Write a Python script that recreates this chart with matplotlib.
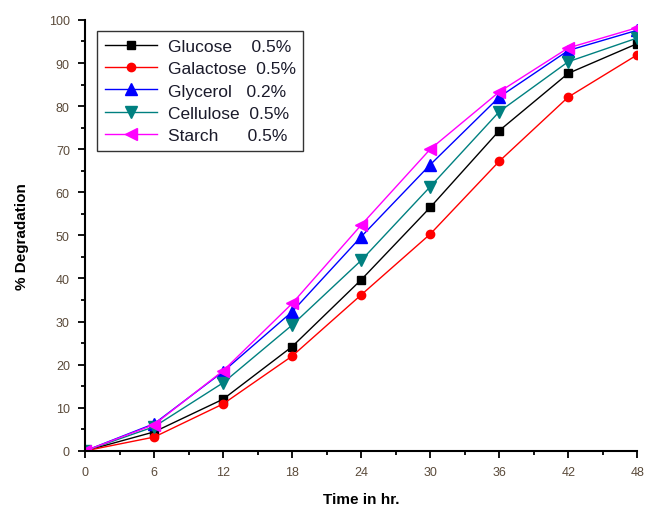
import matplotlib
matplotlib.use("Agg")
import matplotlib.pyplot as plt
from matplotlib.ticker import MultipleLocator

plt.rcParams['font.family'] = ['Liberation Sans', 'DejaVu Sans']

time = [0, 6, 12, 18, 24, 30, 36, 42, 48]
glucose = [0, 4.4, 12.0, 24.2, 39.7, 56.5, 74.3, 87.6, 94.5]
galactose = [0, 3.2, 10.9, 22.0, 36.2, 50.3, 67.2, 82.1, 91.9]
glycerol = [0, 6.3, 18.4, 32.3, 49.7, 66.4, 82.1, 92.9, 97.6]
cellulose = [0, 5.6, 15.8, 29.2, 44.2, 61.3, 78.7, 90.3, 95.8]
starch = [0, 6.1, 18.6, 34.2, 52.4, 70.0, 83.3, 93.5, 98.2]

labels = ["Glucose    0.5%", "Galactose  0.5%", "Glycerol   0.2%",
          "Cellulose  0.5%", "Starch      0.5%"]
series = [glucose, galactose, glycerol, cellulose, starch]
colors = ["#000000", "#ff0000", "#0000ff", "#008080", "#ff00ff"]
markers = ["s", "o", "^", "v", "<"]
msizes = [6, 6, 8, 8, 8]

fig = plt.figure(figsize=(6.45, 5.10), dpi=100)
ax = fig.add_axes([0.132, 0.114, 0.856, 0.845])

for y, lab, c, m, ms in zip(series, labels, colors, markers, msizes):
    ax.plot(time, y, color=c, marker=m, markersize=ms, linewidth=1.0, label=lab)

ax.set_xlim(0, 48)
ax.set_ylim(0, 100)
ax.xaxis.set_major_locator(MultipleLocator(6))
ax.xaxis.set_minor_locator(MultipleLocator(3))
ax.yaxis.set_major_locator(MultipleLocator(10))
ax.yaxis.set_minor_locator(MultipleLocator(5))
for s in ['top', 'right']:
    ax.spines[s].set_visible(False)
for s in ['left', 'bottom']:
    ax.spines[s].set_linewidth(1.5)
ax.tick_params(which='major', direction='out', length=5, width=1.3,
               labelsize=9, labelcolor='#5a4a3a', pad=6)
ax.tick_params(which='minor', direction='out', length=3, width=1.3)

ax.set_xlabel("Time in hr.", fontsize=11, fontweight='bold', labelpad=10)
ax.set_ylabel("% Degradation", fontsize=11, fontweight='bold', labelpad=14)

leg = ax.legend(loc='upper left', bbox_to_anchor=(0.022, 0.975), fontsize=12.5,
                frameon=True, fancybox=False, edgecolor='black',
                handlelength=3.0, borderpad=0.45, labelspacing=0.42,
                handletextpad=0.6, borderaxespad=0)
leg.get_frame().set_linewidth(1.0)
for t in leg.get_texts():
    t.set_color('#1a1a2a')

fig.savefig("out.png", dpi=100)
